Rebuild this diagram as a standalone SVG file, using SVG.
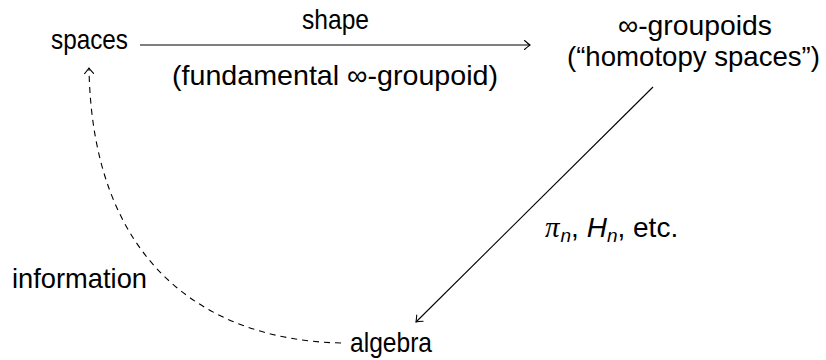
<svg xmlns="http://www.w3.org/2000/svg" width="826" height="360" viewBox="0 0 826 360">
<style>
text{font-family:"Liberation Sans",Arial,sans-serif;font-size:28px;fill:#000}
.ln{fill:none;stroke:#000;stroke-width:1.1}
.dash{stroke-dasharray:6 5}
.ah{fill:none;stroke:#000;stroke-width:1.1;stroke-linecap:round}
.it{font-style:italic}
.pi{font-family:"Liberation Serif",serif;font-style:italic;font-size:29px}
.sub{font-size:19px;font-style:italic}
</style>
<defs>
<marker id="to" markerUnits="userSpaceOnUse" viewBox="-7 -6 9 12" markerWidth="9" markerHeight="12" refX="0" refY="0" orient="auto">
<path class="ah" d="M-5.5,-4.5 Q-1.5,-1 0,0 Q-1.5,1 -5.5,4.5"/>
</marker>
</defs>
<rect width="826" height="360" fill="#fff"/>
<g id="connectors">
<path class="ln" d="M140,45 H530" marker-end="url(#to)"/>
<path class="ln" d="M653,87 L416,322" marker-end="url(#to)"/>
<path class="ln dash" d="M341,343 C205,340 92,262 89,68" marker-end="url(#to)"/>
</g>
<g id="spaces"><text x="51" y="49" textLength="77" lengthAdjust="spacingAndGlyphs">spaces</text></g>
<g id="groupoids">
<text x="618" y="35" textLength="154" lengthAdjust="spacingAndGlyphs">∞-groupoids</text>
<text x="567" y="66" textLength="253" lengthAdjust="spacingAndGlyphs">(“homotopy spaces”)</text>
</g>
<g id="algebra"><text x="350" y="352" textLength="82" lengthAdjust="spacingAndGlyphs">algebra</text></g>
<g id="labels">
<text x="302" y="29" textLength="67" lengthAdjust="spacingAndGlyphs">shape</text>
<text x="172" y="85" textLength="326" lengthAdjust="spacingAndGlyphs">(fundamental ∞-groupoid)</text>
<text x="545" y="237"><tspan class="pi">π</tspan><tspan class="sub" dx="1" dy="5">n</tspan><tspan dy="-5">, </tspan><tspan class="it">H</tspan><tspan class="sub" dy="5">n</tspan><tspan dy="-5">, etc.</tspan></text>
<text x="12" y="288" textLength="135" lengthAdjust="spacingAndGlyphs">information</text>
</g>
</svg>
